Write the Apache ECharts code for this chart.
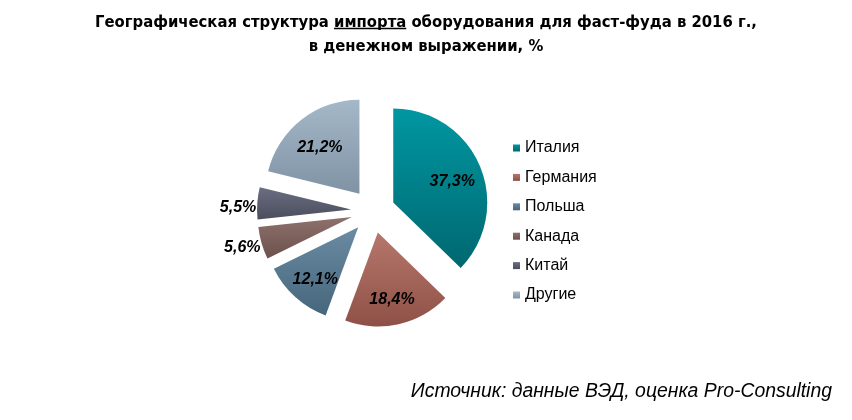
<!DOCTYPE html>
<html><head><meta charset="utf-8">
<script src="https://cdn.jsdelivr.net/npm/echarts@6/dist/echarts.min.js"></script>
<style>html,body{margin:0;padding:0;background:#fff}#c{width:852px;height:420px}</style>
</head><body><div id="c"></div>
<script>
const categories = ['Италия', 'Германия', 'Польша', 'Канада', 'Китай', 'Другие'];
const values = [37.3, 18.4, 12.1, 5.6, 5.5, 21.2];
const labelTexts = ['37,3%', '18,4%', '12,1%', '5,6%', '5,5%', '21,2%'];
const outsideLabels = ['Канада', 'Китай'];
const colorsTop = ['#0097a2', '#b6766b', '#6a8ba2', '#8e716d', '#6b6e80', '#a5b8c8'];
const colorsBottom = ['#006870', '#8f5147', '#46667c', '#6b504c', '#4b4e5e', '#7f93a5'];

const titlePre = 'Географическая структура ';
const titleU = 'импорта';
const titlePost = ' оборудования для фаст-фуда в 2016 г.,';
const titleLine2 = 'в денежном выражении, %';
const sourceText = 'Источник: данные ВЭД, оценка Pro-Consulting';

const chart = echarts.init(document.getElementById('c'), null, {renderer: 'canvas'});
const W = 852;
const R = 94, OFF = 22, CX = 373, CY = 211;
const titleFont = "'DejaVu Sans Condensed', 'Liberation Sans', Arial, sans-serif";
const titleSize = 16.5;

// measure for underline
const mctx = document.createElement('canvas').getContext('2d');
mctx.font = 'bold ' + titleSize + 'px ' + titleFont;
const fullW = mctx.measureText(titlePre + titleU + titlePost).width;
const preW = mctx.measureText(titlePre).width;
const uW = mctx.measureText(titleU).width;
const ux0 = W / 2 - fullW / 2 + preW;

function grad(i) {
  return new echarts.graphic.LinearGradient(0, 0, 0, 1, [
    {offset: 0, color: colorsTop[i]}, {offset: 1, color: colorsBottom[i]}
  ]);
}
const mainData = categories.map((c, i) => ({
  name: c, value: values[i], selected: true,
  itemStyle: {color: grad(i)}
}));
const labelData = categories.map((c, i) => {
  const out = outsideLabels.includes(c);
  return {
    name: c, value: values[i], selected: true,
    itemStyle: {color: 'rgba(0,0,0,0)'},
    label: out ? {position: 'outside', distanceToLabelLine: 0} : {position: 'inside'},
    labelLine: {show: false, length: 1, length2: 0}
  };
});
const labelRich = {
  s: {height: 9, lineHeight: 9, fontSize: 1},
  t: {fontFamily: "'Liberation Sans', Arial, sans-serif", fontSize: 16, fontWeight: 'bold', fontStyle: 'italic', color: '#000', lineHeight: 18}
};
chart.setOption({
  animation: false,
  title: [{
    text: titlePre + titleU + titlePost + '\n' + titleLine2,
    left: 'center', top: 6,
    textStyle: {
      fontFamily: titleFont, fontWeight: 'bold', fontSize: titleSize, color: '#000', lineHeight: 24, align: 'center'
    }
  }, {
    text: sourceText,
    right: 15, top: 377,
    textStyle: {fontFamily: "'Liberation Sans', Arial, sans-serif", fontStyle: 'italic', fontWeight: 'normal', fontSize: 19.4, color: '#000'}
  }],
  graphic: [{
    type: 'line', silent: true,
    shape: {x1: ux0, y1: 28.5, x2: ux0 + uW, y2: 28.5},
    style: {stroke: '#000', lineWidth: 1.5}
  }],
  legend: {
    orient: 'vertical', left: 508, top: 135,
    itemWidth: 7, itemHeight: 7, itemGap: 13.4,
    icon: 'rect',
    data: categories,
    textStyle: {fontFamily: "'Liberation Sans', Arial, sans-serif", fontSize: 16, color: '#000', lineHeight: 16}
  },
  series: [{
    type: 'pie', name: 'main',
    center: [CX, CY], radius: [0, R],
    startAngle: 90, clockwise: true,
    selectedMode: 'multiple', selectedOffset: OFF,
    label: {show: false}, labelLine: {show: false},
    emphasis: {disabled: true},
    data: mainData
  }, {
    type: 'pie', name: 'labels',
    center: [CX, CY], radius: [R * 0.3, R],
    startAngle: 90, clockwise: true,
    selectedMode: 'multiple', selectedOffset: OFF,
    silent: true,
    emphasis: {disabled: true},
    label: {
      show: true,
      formatter: p => '{s| }\n{t|' + labelTexts[p.dataIndex] + '}',
      rich: labelRich,
      fontFamily: "'Liberation Sans', Arial, sans-serif",
      fontSize: 16, fontWeight: 'bold', fontStyle: 'italic', color: '#000'
    },
    labelLine: {show: false},
    data: labelData
  }]
});
</script></body></html>
